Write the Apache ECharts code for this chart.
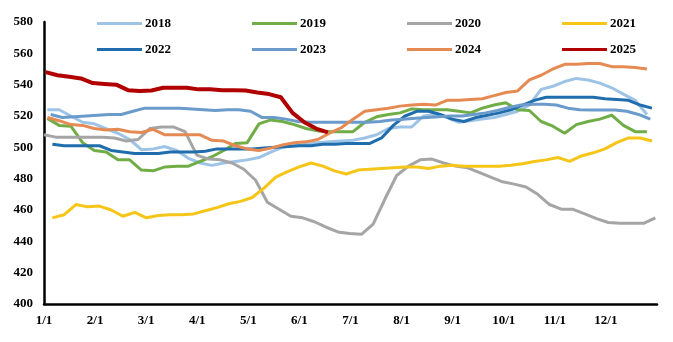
<!DOCTYPE html>
<html>
<head>
<meta charset="utf-8">
<script src="https://cdn.jsdelivr.net/npm/echarts@6/dist/echarts.min.js"></script>
<style>html,body{margin:0;padding:0;background:#fff;}#c{width:673px;height:342px;}</style>
</head>
<body>
<div id="c"></div>
<script>
// Years (series names)
const years = ['2018','2019','2020','2021','2022','2023','2024','2025'];
// Day-of-year of first weekly observation for each year
const firstDay = [2, 2, 0, 5, 5, 4, 2, 1];
// Month tick labels
const monthLabels = ['1/1','2/1','3/1','4/1','5/1','6/1','7/1','8/1','9/1','10/1','11/1','12/1'];
// Weekly values
const y2018 = [524,524,520,516,515,512,509,505,498.5,499,500.5,498,493,490,488.5,490,491,492,493.5,497,500,501,502,503,503.5,504,504.5,506,508,512,513,513,520,521,519,516,517,518,519,521,523,527,537,539,542,544,543,541,538,534,530,521];
const y2019 = [518.5,514,513.5,503,498,497,492,492,485.5,485,487.5,488,488,491,494,498,502.5,503,515,517.5,516.5,514.5,512,510.5,510,510,510,516,519.5,521,522,524.5,524,524,524,523,522,525,527,528.5,524,523.5,516.5,513.5,509,514.5,516.5,518,520.5,514,510,510];
const y2020 = [508,506.5,506.5,506.5,506.5,506.5,506,504,505,512,513,513,510,495,492.5,492,490,486,479,465,460.5,456,455,452.5,449,446,445,444.5,451,467,482,488,492,492.5,490,488,487,484,481,478,476.5,474.7,470,463.5,460.5,460.4,457.5,454.5,452,451.5,451.5,451.5,455];
const y2021 = [455,457,463.5,462,462.5,460,456,458.5,455,456.5,457,457,457.5,459.5,461.5,464,465.5,468,474,481,484.5,487.5,490,488,485,483,485.5,486,486.5,487,487.5,487.5,486.5,488,488.5,488,488,488,488,488.5,489.5,491,492,493.5,491,494.5,496.5,499,503,506,506,504];
const y2022 = [502,501,501,501,501,498,497,496,496,496,497,497,497,497.5,499,499,499,499,499.5,500,500.5,501,501,502,502,502.5,502.5,502.5,506,514,520,523,523,521,518,516.5,519,520.5,522,524,527,530,532,532,532,532,532,531,530.5,530,527,525];
const y2023 = [521,519,519.5,520,520.5,521,521,523,525,525,525,525,524.5,524,523.5,524,524,523,519,519,518,516.5,516,516,516,516,516,516,516.5,517.5,518,518.5,519,519.5,520,520,521,522,523.5,525.5,527,527.5,527.5,527,525,524,523.8,523.8,523.8,523,521,518];
const y2024 = [519,517,514.5,514,512,511,511.5,510,509.5,511.5,508,508,508,508,504.5,504,501,499,498,499.5,501.5,503,503.5,505,509,512.5,518,523,524,525,526.3,527,527.5,527,530,530,530.5,531,533,535,536,543,546,550,553,553,553.5,553.5,551.5,551.5,551,550];
const y2025 = [548,546,545,544,541,540.5,540,536.5,536,536.3,538,538,538,537,537,536.5,536.5,536.3,535,534,532,522,516,512,509.5];

const values = [y2018,y2019,y2020,y2021,y2022,y2023,y2024,y2025];
const colors = ['#9DC3E6','#70AD47','#A5A5A5','#F5C518','#1F6DAD','#6A9BCB','#E58A52','#B00000'];
const widths = [3,3,3,3,3,3,3,4];

const daysPerMonth = 365/12;
const series = years.map((name, k) => ({
  name: name,
  type: 'line',
  symbol: 'none',
  smooth: false,
  lineStyle: {color: colors[k], width: widths[k]},
  itemStyle: {color: colors[k]},
  data: values[k].map((v, i) => [(firstDay[k] + 7*i)/daysPerMonth, v])
}));

const font = {fontFamily: 'Liberation Serif', fontWeight: 'bold', fontSize: 13, color: '#000'};
const chart = echarts.init(document.getElementById('c'));
chart.setOption({
  animation: false,
  backgroundColor: '#fff',
  grid: {left: 44, right: 16, top: 22, bottom: 38, containLabel: false},
  legend: [
    {data: years.slice(0,4), left: 92, top: 12, icon: 'rect', itemWidth: 45, itemHeight: 3, itemGap: 81, textStyle: Object.assign({padding: [0,0,0,-2]}, font)},
    {data: years.slice(4), left: 92, top: 38, icon: 'rect', itemWidth: 45, itemHeight: 3, itemGap: 81, textStyle: Object.assign({padding: [0,0,0,-2]}, font)}
  ],
  xAxis: {
    type: 'value', min: 0, max: 12, interval: 1,
    axisLine: {show: true, lineStyle: {color: '#000', width: 2.5}},
    axisTick: {show: false},
    splitLine: {show: false},
    axisLabel: Object.assign({margin: 10, formatter: v => (v < 12 ? monthLabels[v] : '')}, font)
  },
  yAxis: {
    type: 'value', min: 400, max: 580, interval: 20,
    axisLine: {show: true, lineStyle: {color: '#000', width: 2.5}},
    axisTick: {show: false},
    splitLine: {show: false},
    axisLabel: Object.assign({margin: 11}, font)
  },
  series: series
});
</script>
</body>
</html>
